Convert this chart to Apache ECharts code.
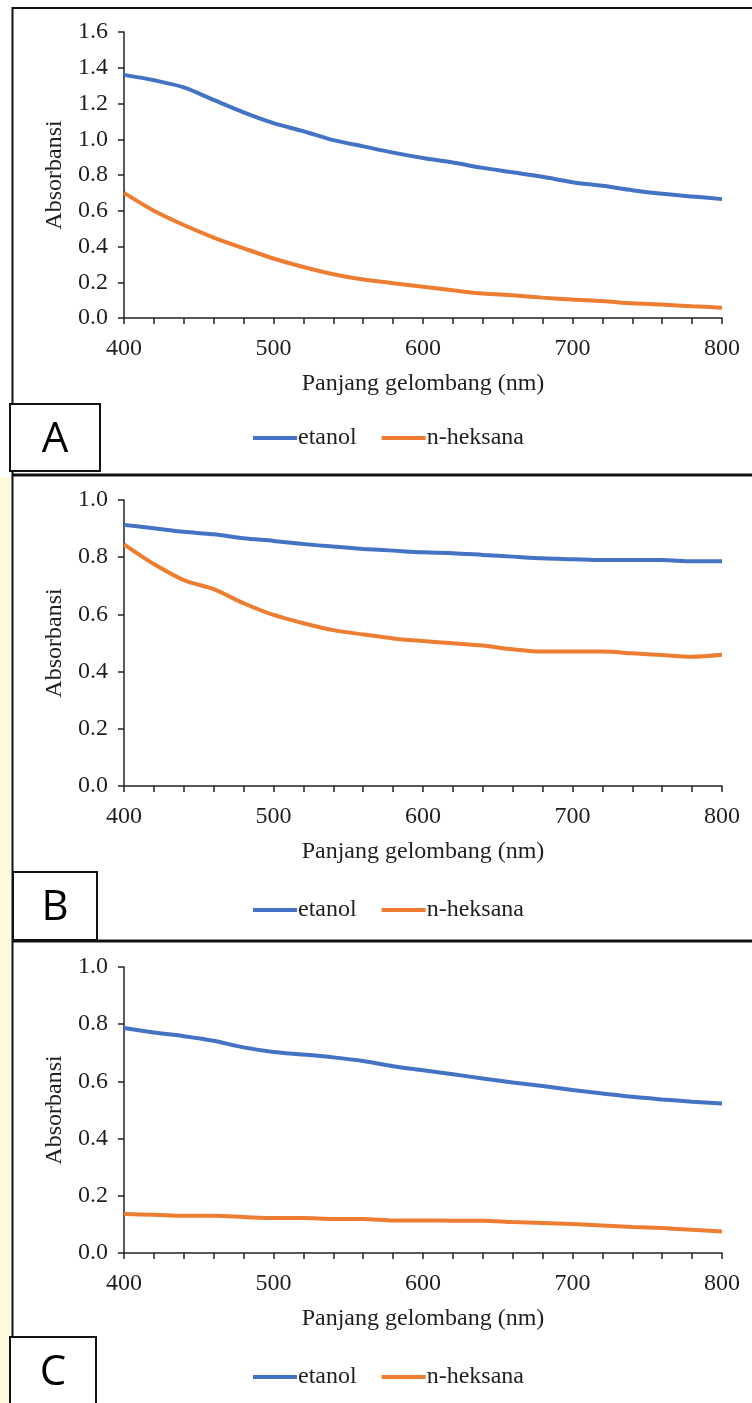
<!DOCTYPE html>
<html>
<head>
<meta charset="utf-8">
<title>Absorbansi</title>
<script src="https://cdn.jsdelivr.net/npm/echarts@6/dist/echarts.min.js"></script>
<style>
    html, body { margin: 0; padding: 0; background: #fff; }
    #div_chart { width: 752px; height: 1403px; }
</style>
</head>
<body>
<div id="div_chart"></div>
<script>
// panjang gelombang (nm)
var wavelengths = [400, 420, 440, 460, 480, 500, 520, 540, 560, 580, 600, 620, 640, 660, 680, 700, 720, 740, 760, 780, 800];
var xTicks = [400, 500, 600, 700, 800];
var seriesNames = ['etanol', 'n-heksana'];
var panelLabels = ['A', 'B', 'C'];
var yMaxList = [1.6, 1.0, 1.0];

// A
var etanolA = [1.36, 1.33, 1.29, 1.22, 1.15, 1.09, 1.045, 0.995, 0.96, 0.925, 0.895, 0.87, 0.84, 0.815, 0.79, 0.76, 0.74, 0.715, 0.695, 0.68, 0.665];
var heksanaA = [0.70, 0.60, 0.52, 0.45, 0.39, 0.333, 0.285, 0.245, 0.215, 0.195, 0.175, 0.155, 0.137, 0.127, 0.114, 0.103, 0.095, 0.082, 0.075, 0.066, 0.058];
// B
var etanolB = [0.913, 0.901, 0.889, 0.88, 0.866, 0.857, 0.846, 0.837, 0.829, 0.823, 0.817, 0.814, 0.808, 0.802, 0.796, 0.793, 0.79, 0.79, 0.79, 0.786, 0.786];
var heksanaB = [0.845, 0.776, 0.72, 0.688, 0.639, 0.598, 0.569, 0.545, 0.53, 0.516, 0.507, 0.499, 0.491, 0.478, 0.47, 0.47, 0.47, 0.464, 0.458, 0.452, 0.459];
// C
var etanolC = [0.787, 0.771, 0.758, 0.742, 0.719, 0.703, 0.694, 0.684, 0.671, 0.653, 0.639, 0.625, 0.61, 0.596, 0.584, 0.57, 0.558, 0.546, 0.537, 0.529, 0.523];
var heksanaC = [0.136, 0.134, 0.13, 0.13, 0.126, 0.122, 0.122, 0.119, 0.119, 0.114, 0.114, 0.113, 0.113, 0.108, 0.105, 0.101, 0.096, 0.091, 0.087, 0.081, 0.075];

var appAbsorbansi = {
    el: 'div_chart',
    chart: null,
    colors: ['#4472C4', '#ED7D31'],
    font: '"Liberation Serif", "Times New Roman", serif',
    fontSize: 24,
    gridTops: [32, 500, 967],
    gridHeight: 286,
    legendTops: [426, 898, 1365],
    init: function init() {
        var that = this;
        that.chart = echarts.init(document.getElementById(that.el));
        that.chart.setOption(that.getOption());
    },
    toPairs: function toPairs(values) {
        var arr = [];
        for (var i = 0; i < wavelengths.length; i++) {
            arr.push([wavelengths[i], values[i]]);
        }
        return arr;
    },
    //画面板边框和标签框
    getGraphic: function getGraphic() {
        var g = [];
        var lineStyle = { stroke: '#111', lineWidth: 2 };
        g.push({ type: 'rect', silent: true, shape: { x: 0, y: 477, width: 11, height: 926 }, style: { fill: '#fdfbdc' } });
        g.push({ type: 'line', shape: { x1: 12, y1: 8, x2: 752, y2: 8 }, style: lineStyle });
        g.push({ type: 'line', shape: { x1: 12.5, y1: 7, x2: 12.5, y2: 1403 }, style: lineStyle });
        g.push({ type: 'line', shape: { x1: 12, y1: 475, x2: 752, y2: 475 }, style: { stroke: '#111', lineWidth: 3 } });
        g.push({ type: 'line', shape: { x1: 12, y1: 941, x2: 752, y2: 941 }, style: { stroke: '#111', lineWidth: 3 } });
        var boxes = [[10, 404, 90, 67], [13, 872, 84, 68], [10, 1337, 86, 70]];
        for (var i = 0; i < boxes.length; i++) {
            var b = boxes[i];
            g.push({
                type: 'rect',
                shape: { x: b[0], y: b[1], width: b[2], height: b[3] },
                style: { fill: '#fff', stroke: '#111', lineWidth: 2 }
            });
            g.push({
                type: 'text',
                x: b[0] + b[2] / 2,
                y: b[1] + 36,
                style: {
                    text: panelLabels[i],
                    font: '42px "Open Sans", "Noto Sans", sans-serif',
                    fill: '#000',
                    align: 'center',
                    verticalAlign: 'middle'
                }
            });
        }
        return g;
    },
    getOption: function getOption() {
        var that = this;
        var grid = [], xAxis = [], yAxis = [], legend = [], series = [];
        var data = [[etanolA, heksanaA], [etanolB, heksanaB], [etanolC, heksanaC]];
        var labelStyle = { color: '#1f1f1f', fontSize: that.fontSize, fontFamily: that.font };
        var axisLine = { show: true, lineStyle: { color: '#222', width: 1.5 } };
        var tickStyle = { color: '#222', width: 1.5 };
        for (var i = 0; i < 3; i++) {
            grid.push({ left: 124, right: 30, top: that.gridTops[i], height: that.gridHeight });
            xAxis.push({
                type: 'value',
                gridIndex: i,
                min: xTicks[0],
                max: xTicks[xTicks.length - 1],
                interval: 100,
                name: 'Panjang gelombang (nm)',
                nameLocation: 'middle',
                nameGap: 54,
                nameTextStyle: labelStyle,
                axisLine: axisLine,
                axisTick: { show: true, length: 6, lineStyle: tickStyle },
                minorTick: { show: true, splitNumber: 5, length: 6, lineStyle: tickStyle },
                splitLine: { show: false },
                axisLabel: { margin: 19, color: labelStyle.color, fontSize: that.fontSize, fontFamily: that.font }
            });
            yAxis.push({
                type: 'value',
                gridIndex: i,
                min: 0,
                max: yMaxList[i],
                interval: 0.2,
                name: 'Absorbansi',
                nameLocation: 'middle',
                nameGap: 57,
                nameTextStyle: labelStyle,
                axisLine: axisLine,
                axisTick: { show: true, length: 6, lineStyle: tickStyle },
                splitLine: { show: false },
                axisLabel: {
                    margin: 16,
                    color: labelStyle.color,
                    fontSize: that.fontSize,
                    fontFamily: that.font,
                    formatter: function (v) { return v.toFixed(1); }
                }
            });
            legend.push({
                left: 253,
                top: that.legendTops[i],
                padding: 0,
                data: seriesNames,
                icon: 'rect',
                itemWidth: 44,
                itemHeight: 4,
                itemGap: 25,
                selectedMode: false,
                textStyle: { color: labelStyle.color, fontSize: that.fontSize, fontFamily: that.font, padding: [0, 0, 0, -4] }
            });
            for (var j = 0; j < 2; j++) {
                series.push({
                    name: seriesNames[j],
                    type: 'line',
                    xAxisIndex: i,
                    yAxisIndex: i,
                    data: that.toPairs(data[i][j]),
                    smooth: 0.3,
                    showSymbol: false,
                    lineStyle: { width: 4, color: that.colors[j] },
                    itemStyle: { color: that.colors[j] }
                });
            }
        }
        return {
            animation: false,
            backgroundColor: '#fff',
            grid: grid,
            xAxis: xAxis,
            yAxis: yAxis,
            legend: legend,
            series: series,
            graphic: that.getGraphic()
        };
    }
};
window.onload = function () {
    appAbsorbansi.init();
};
</script>
</body>
</html>
